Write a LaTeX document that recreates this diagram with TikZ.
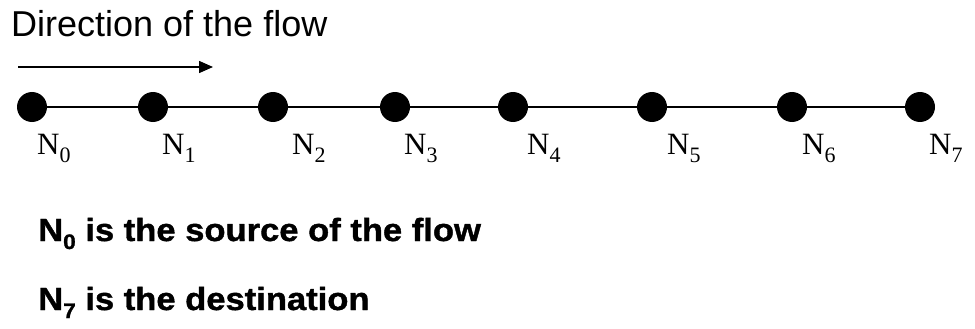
\documentclass[tikz,border=0pt]{standalone}
\usepackage{fontspec}
\setmainfont{Liberation Serif}
\newfontfamily\hsans{Liberation Sans}
\newfontfamily\hsansw[FakeStretch=1.08,FakeBold=1.2]{Liberation Sans}
\usetikzlibrary{arrows.meta}
\newcommand{\lsub}[1]{\raisebox{-0.28em}{\fontsize{22}{22}\selectfont #1}}
\newcommand{\bsub}[1]{\raisebox{-0.25em}{\fontsize{21}{21}\selectfont #1}}
\begin{document}
\begin{tikzpicture}[x=1pt,y=-1pt,
  dot/.style={circle,fill=black,inner sep=0pt,minimum size=30pt},
  lbl/.style={anchor=base west,inner sep=0pt,font=\fontsize{31}{31}\selectfont},
  link/.style={line width=1.6pt},
  note/.style={anchor=base west,inner sep=0pt,font=\hsansw\bfseries\fontsize{32}{32}\selectfont}]
\useasboundingbox (0,0) rectangle (975,329);
\node[anchor=base west,inner sep=0pt,font=\hsans\fontsize{36}{36}\selectfont] (title) at (11,37) {Direction of the flow};
\coordinate (as) at (18,67);
\coordinate (ae) at (213,67);
\draw[line width=1.6pt,-{Triangle[length=14pt,width=12pt]}] (as) -- (ae);
\foreach \i/\x/\lx in {0/32/37,1/153/162,2/273/292,3/395/404,4/513/527,5/652/667,6/792/802,7/920/929}{
  \node[dot] (n\i) at (\x,107) {};
  \node[lbl] (l\i) at (\lx,154) {N\lsub{\i}};
}
\draw[link] (n0) -- (n1) -- (n2) -- (n3) -- (n4) -- (n5) -- (n6) -- (n7);
\node[note] (s) at (38,241) {N\bsub{0} is the source of the flow};
\node[note] (d) at (38,310) {N\bsub{7} is the destination};
\end{tikzpicture}
\end{document}
